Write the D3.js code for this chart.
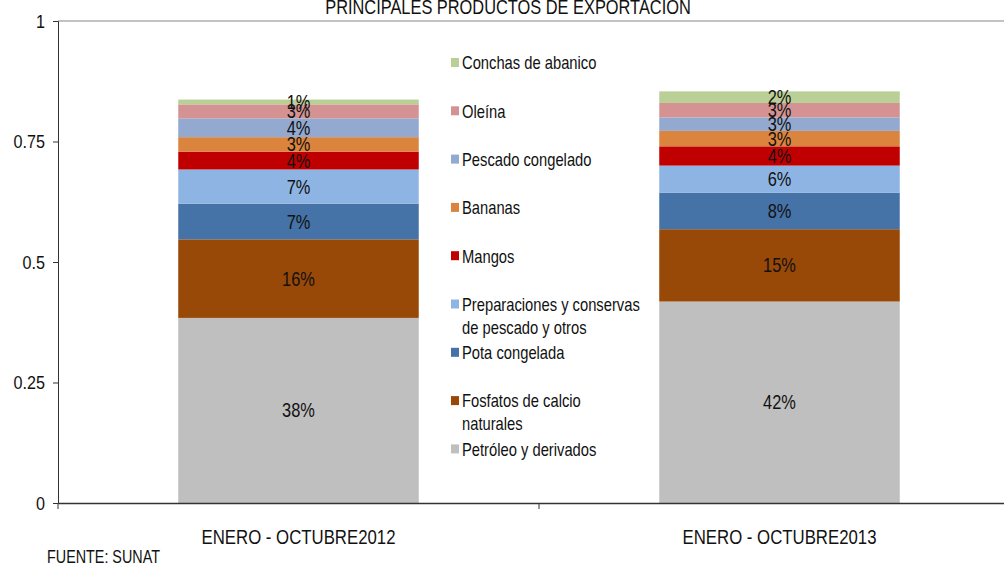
<!DOCTYPE html>
<html>
<head>
<meta charset="utf-8">
<script src="https://cdn.jsdelivr.net/npm/d3@7"></script>
<style>
  body { margin: 0; background: #fff; overflow: hidden; }
  text { font-family: "Liberation Sans", Arial, sans-serif; }
</style>
</head>
<body>
<div id="chart"></div>
<script>
const categories = ['ENERO - OCTUBRE2012', 'ENERO - OCTUBRE2013'];
const products = ['Petróleo y derivados', 'Fosfatos de calcio naturales', 'Pota congelada',
  'Preparaciones y conservas de pescado y otros', 'Mangos', 'Bananas',
  'Pescado congelado', 'Oleína', 'Conchas de abanico'];
const values2012 = [0.384, 0.163, 0.074, 0.071, 0.037, 0.030, 0.039, 0.029, 0.010];
const values2013 = [0.418, 0.150, 0.076, 0.056, 0.040, 0.032, 0.028, 0.030, 0.024];
const legendLines = [['Petróleo y derivados'], ['Fosfatos de calcio', 'naturales'], ['Pota congelada'],
  ['Preparaciones y conservas', 'de pescado y otros'], ['Mangos'], ['Bananas'],
  ['Pescado congelado'], ['Oleína'], ['Conchas de abanico']];
const yTicks = [0, 0.25, 0.5, 0.75, 1];
const colors = ['#bfbfbf', '#984807', '#4572a7', '#8eb4e3', '#c00000', '#db843d', '#93a9cf', '#d49392', '#b9cf96'];

const width = 1004, height = 566;
const margin = {top: 21, left: 58, bottom: 63};
const plotRight = 1020;

// Arial Narrow look: squeeze text horizontally
function narrow(sel, k = 0.82) {
  sel.each(function() {
    const t = d3.select(this);
    const tx = +t.attr('x') || 0, ty = +t.attr('y') || 0;
    t.attr('x', 0).attr('y', 0).attr('transform', `translate(${tx},${ty}) scale(${k},1)`);
  });
}

const svg = d3.select('#chart').append('svg')
  .attr('width', width).attr('height', height);

const x = d3.scaleBand().domain(categories).range([margin.left, plotRight]).paddingInner(0.5).paddingOuter(0.25);
const y = d3.scaleLinear().domain([0, 1]).range([height - margin.bottom, margin.top]);
const color = d3.scaleOrdinal().domain(products).range(colors);

const rows = categories.map((c, i) => {
  const vals = i === 0 ? values2012 : values2013;
  const r = {cat: c};
  products.forEach((p, j) => r[p] = vals[j]);
  return r;
});
const series = d3.stack().keys(products)(rows);

// top border
svg.append('line')
  .attr('x1', margin.left).attr('x2', width)
  .attr('y1', y(1)).attr('y2', y(1))
  .attr('stroke', '#868686').attr('stroke-width', 1);

const g = svg.append('g');
series.forEach(s => {
  g.selectAll(null).data(s).enter().append('rect')
    .attr('x', d => x(d.data.cat))
    .attr('width', x.bandwidth())
    .attr('y', d => y(d[1]))
    .attr('height', d => y(d[0]) - y(d[1]))
    .attr('fill', color(s.key));
});
series.forEach(s => {
  g.selectAll(null).data(s).enter().append('text')
    .attr('x', d => x(d.data.cat) + x.bandwidth() / 2)
    .attr('y', d => (y(d[0]) + y(d[1])) / 2)
    .attr('dy', '0.35em')
    .attr('text-anchor', 'middle')
    .attr('font-size', 20)
    .attr('fill', '#111')
    .text(d => d3.format('.0%')(d[1] - d[0]))
    .call(narrow);
});

// y axis
const yAxis = svg.append('g')
  .attr('transform', `translate(${margin.left},0)`)
  .call(d3.axisLeft(y).tickValues(yTicks).tickFormat(d => d).tickSize(5).tickPadding(8));
yAxis.select('.domain').attr('stroke', '#333');
yAxis.selectAll('.tick line').attr('stroke', '#333');
yAxis.selectAll('text').attr('font-size', 19).attr('fill', '#111')
  .style('font-family', '"Liberation Sans", Arial, sans-serif').call(narrow, 0.85);

// x axis
const xAxis = svg.append('g')
  .attr('transform', `translate(0,${y(0)})`)
  .call(d3.axisBottom(x).tickSize(0).tickPadding(27));
xAxis.select('.domain').attr('stroke', '#333').attr('stroke-width', 1.5);
xAxis.selectAll('text').attr('font-size', 20).attr('fill', '#111')
  .style('font-family', '"Liberation Sans", Arial, sans-serif').call(narrow, 0.84);
svg.append('line')
  .attr('x1', margin.left).attr('x2', margin.left).attr('y1', y(0)).attr('y2', y(0) + 6).attr('stroke', '#333');
svg.append('line')
  .attr('x1', (margin.left + plotRight) / 2).attr('x2', (margin.left + plotRight) / 2)
  .attr('y1', y(0)).attr('y2', y(0) + 6).attr('stroke', '#333');

// title
svg.append('text')
  .attr('x', 508).attr('y', 14)
  .attr('text-anchor', 'middle').attr('font-size', 20).attr('fill', '#111')
  .text('PRINCIPALES PRODUCTOS DE EXPORTACION')
  .call(narrow);

// legend (top to bottom is reverse of stack)
const legend = svg.append('g');
const order = products.map((p, i) => i).reverse();
order.forEach((idx, k) => {
  const yy = 63 + k * 48.3;
  legend.append('rect')
    .attr('x', 451).attr('y', yy - 5).attr('width', 8).attr('height', 9)
    .attr('fill', colors[idx]);
  legendLines[idx].forEach((line, li) => {
    legend.append('text')
      .attr('x', 462).attr('y', yy + li * 23)
      .attr('dy', '0.35em')
      .attr('font-size', 18).attr('fill', '#111')
      .text(line)
      .call(narrow);
  });
});

svg.append('text')
  .attr('x', 47).attr('y', 563)
  .attr('font-size', 17.5).attr('fill', '#111')
  .text('FUENTE: SUNAT')
  .call(narrow);
</script>
</body>
</html>
